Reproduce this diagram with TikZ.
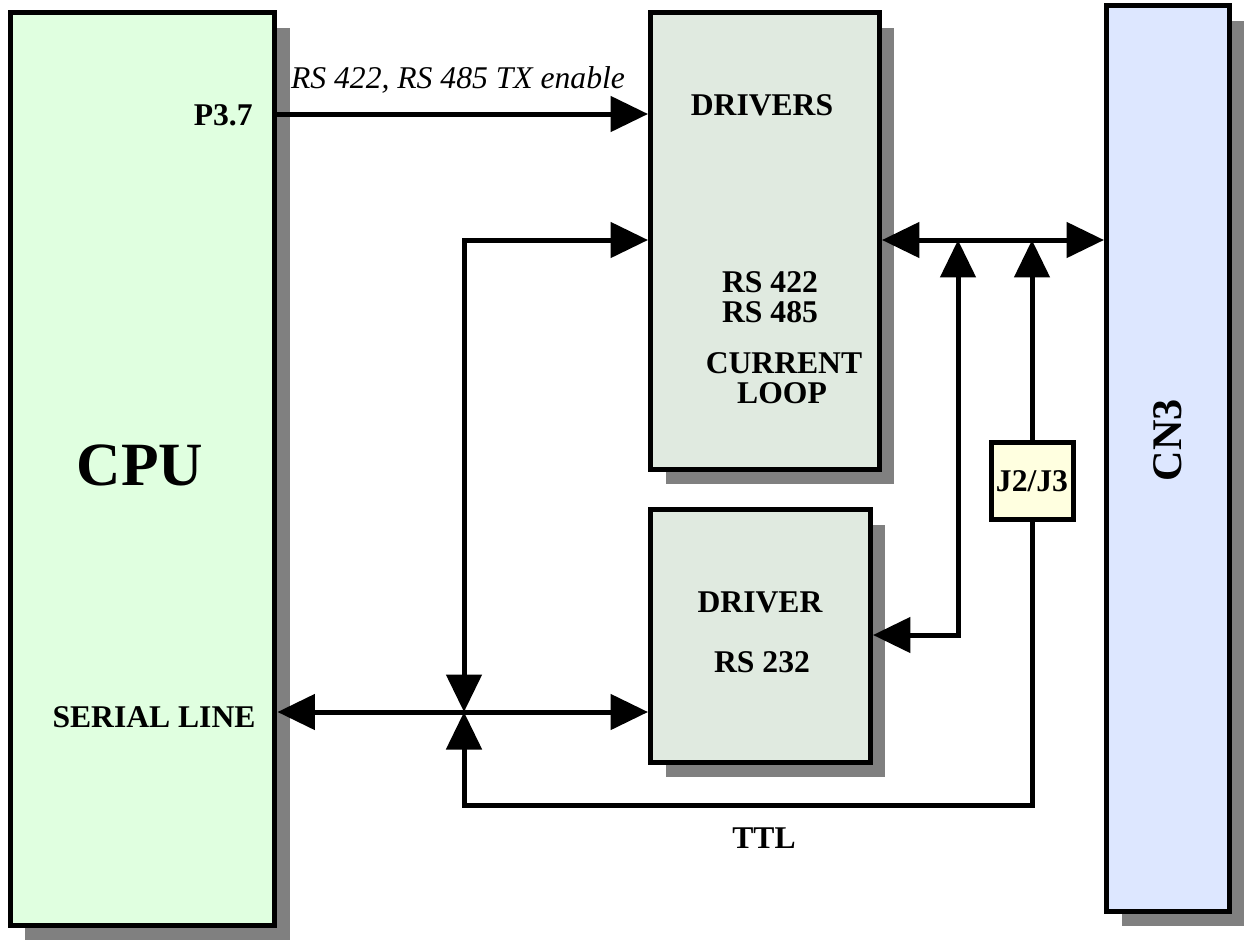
\documentclass[tikz,border=0pt]{standalone}
\usepackage{fontspec}
\setmainfont{Liberation Serif}
\usetikzlibrary{arrows.meta,shadows}
\definecolor{cpugreen}{RGB}{224,255,224}
\definecolor{drvgreen}{RGB}{224,234,224}
\definecolor{cnblue}{RGB}{221,231,255}
\definecolor{jmpyellow}{RGB}{255,255,224}
\definecolor{shadowgray}{RGB}{128,128,128}

\begin{document}
\begin{tikzpicture}[x=0.02cm, y=-0.02cm,
  >={Triangle[length=0.75cm,width=0.7cm]},
  block/.style={draw, line width=0.1cm, inner sep=0pt,
    drop shadow={shadow xshift=0.3cm, shadow yshift=-0.3cm, fill=shadowgray, opacity=1}},
  lbl/.style={font=\fontsize{18}{20}\selectfont\bfseries, inner sep=0pt},
  conn/.style={line width=0.1cm}]

\useasboundingbox (0,0) rectangle (1244,940);

%---------------------------------------
% Blocks
%---------------------------------------
\node[block, fill=cpugreen, minimum width=5.3cm, minimum height=18.26cm] (cpu) at (142.5,469) {};
\node[block, fill=drvgreen, minimum width=4.58cm, minimum height=9.14cm] (drvs) at (765,241) {};
\node[block, fill=drvgreen, minimum width=4.4cm, minimum height=5.06cm] (drv232) at (760.5,636) {};
\node[block, fill=cnblue, minimum width=2.46cm, minimum height=18.12cm] (cn3) at (1168,458.5) {};
\node[lbl, draw, line width=0.1cm, fill=jmpyellow, minimum width=1.64cm, minimum height=1.54cm] (jmp) at (1032,481) {J2/J3};

% Texts
\node[lbl, font=\fontsize{35}{40}\selectfont\bfseries, anchor=base] (cputxt) at (140,485) {CPU};
\node[lbl, anchor=base east] (p37) at (253,125) {P3.7};
\node[lbl, anchor=base] (serial) at (154,727) {SERIAL LINE};
\node[lbl, font=\fontsize{18}{20}\selectfont\itshape, anchor=base] (txen) at (458,88) {RS 422, RS 485 TX enable};
\node[lbl, anchor=base] (drvstxt) at (762,115) {DRIVERS};
\node[lbl, anchor=base] (rs422) at (770,292) {RS 422};
\node[lbl, anchor=base] (rs485) at (770,322) {RS 485};
\node[lbl, anchor=base] (curr) at (784,373) {CURRENT};
\node[lbl, anchor=base] (loop) at (782,403) {LOOP};
\node[lbl, anchor=base] (drvtxt) at (760,612) {DRIVER};
\node[lbl, anchor=base] (rs232) at (762,672) {RS 232};
\node[lbl, anchor=base] (ttl) at (764,848) {TTL};
\node[lbl, font=\fontsize{24}{28}\selectfont\bfseries, rotate=90] (cn3txt) at (1168,440) {CN3};

%---------------------------------------
% Connections
%---------------------------------------
\coordinate (enrow) at (464,114);
\coordinate (rxtop) at (464,240);
\coordinate (jct) at (464,712);
\coordinate (rsturn) at (958,635);
\coordinate (ttlL) at (464,805);

\draw[conn,->] (cpu.east |- enrow) -- (drvs.west |- enrow);
\draw[conn,<->] (cpu.east |- jct) -- (drv232.west |- jct);
\draw[conn,<->] (drvs.west |- rxtop) -- (rxtop) -- (jct);
\draw[conn,->] (jmp.south) -- (jmp.south |- ttlL) -- (ttlL) -- (jct);
\draw[conn,<->] (drvs.east |- rxtop) -- (cn3.west |- rxtop);
\draw[conn,->] (jmp.north) -- (jmp.north |- rxtop);
\draw[conn,<->] (drv232.east |- rsturn) -- (rsturn) -- (rsturn |- rxtop);

\end{tikzpicture}
\end{document}
